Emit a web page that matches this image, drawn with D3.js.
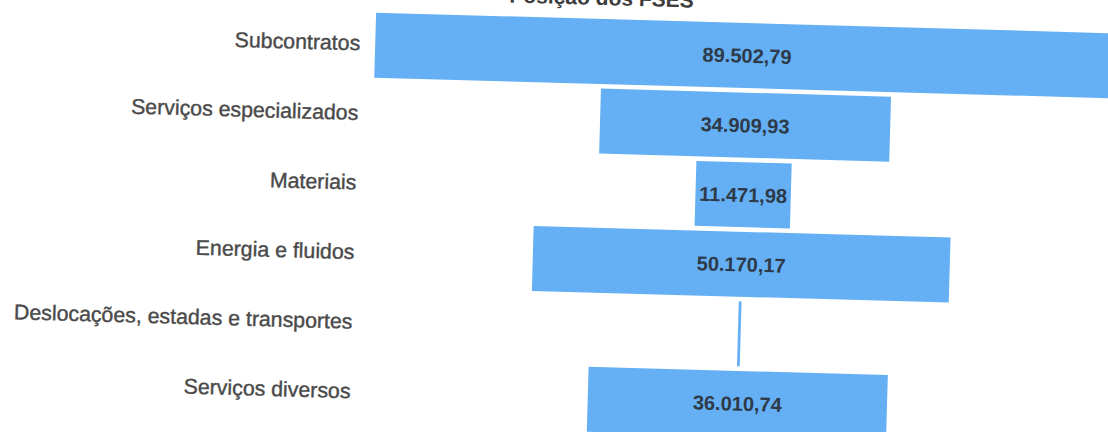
<!DOCTYPE html>
<html>
<head>
<meta charset="utf-8">
<script src="https://cdn.jsdelivr.net/npm/d3@7/dist/d3.min.js"></script>
<style>
  body { margin: 0; background: #fff; }
  .chart { width: 1108px; height: 432px; overflow: hidden; }
  text { font-family: "Liberation Sans", Arial, sans-serif; }
</style>
</head>
<body>
<div class="chart"></div>
<script>
// data
var categories = ["Subcontratos", "Serviços especializados", "Materiais",
                  "Energia e fluidos", "Deslocações, estadas e transportes", "Serviços diversos"];
var values = [89502.79, 34909.93, 11471.98, 50170.17, 330, 36010.74];
var title = "Posição dos FSES";

var width = 1108, height = 432;
var cx = 743;  // funnel centre line

var fmt = d3.formatLocale({decimal: ",", thousands: ".", grouping: [3], currency: ["", "€"]})
            .format(",.2f");

var data = categories.map(function(c, i) { return {name: c, value: values[i]}; });

var y = d3.scaleBand()
          .domain(categories)
          .range([23, 436])
          .paddingInner(0.066)
          .paddingOuter(0);

var w = d3.scaleLinear()
          .domain([0, d3.max(values)])
          .range([0, 744]);

var svg = d3.select(".chart").append("svg")
            .attr("width", width)
            .attr("height", height);

// the scanned page is a little crooked
var g = svg.append("g")
           .attr("transform", "rotate(1.6," + cx + ",200)");

// title sits mostly above the scanned area, only its foot shows
g.append("text")
 .attr("x", 596)
 .attr("y", 9)
 .attr("text-anchor", "middle")
 .style("font-size", "21px")
 .style("font-weight", "bold")
 .style("fill", "#3c3c3c")
 .text(title);

g.selectAll(".bar")
 .data(data)
 .enter().append("rect")
 .attr("class", "bar")
 .attr("x", function(d) { return cx - w(d.value) / 2; })
 .attr("y", function(d) { return y(d.name); })
 .attr("width", function(d) { return w(d.value); })
 .attr("height", y.bandwidth())
 .style("fill", "#65b0f4");

g.selectAll(".val")
 .data(data.filter(function(d) { return w(d.value) > 40; }))
 .enter().append("text")
 .attr("class", "val")
 .attr("x", cx)
 .attr("y", function(d) { return y(d.name) + y.bandwidth() / 2; })
 .attr("dy", "0.36em")
 .attr("text-anchor", "middle")
 .style("font-size", "20px")
 .style("font-weight", "bold")
 .style("fill", "#2e3a48")
 .text(function(d) { return fmt(d.value); });

g.selectAll(".cat")
 .data(data)
 .enter().append("text")
 .attr("class", "cat")
 .attr("x", 356)
 .attr("y", function(d) { return y(d.name) + y.bandwidth() / 2 - 2; })
 .attr("dy", "0.36em")
 .attr("text-anchor", "end")
 .style("font-size", "21.3px")
 .style("fill", "#4a4a4a")
 .style("stroke", "#4a4a4a")
 .style("stroke-width", "0.4px")
 .text(function(d) { return d.name; });
</script>
</body>
</html>
